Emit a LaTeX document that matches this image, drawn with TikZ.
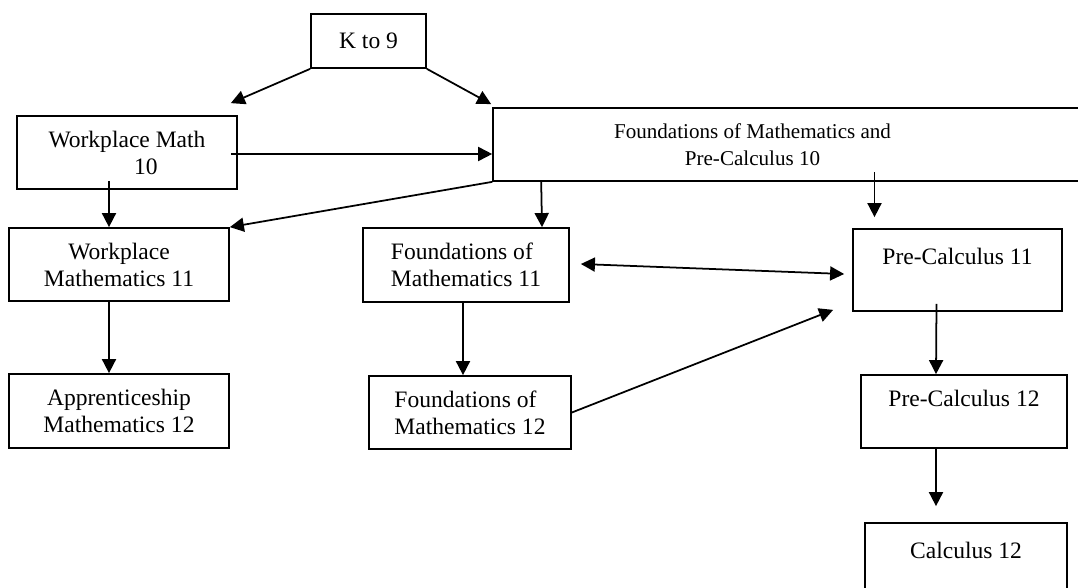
\documentclass[tikz,border=0pt]{standalone}
\usepackage{fontspec}
\setmainfont{Liberation Serif}
\usepackage{tikz}
\usetikzlibrary{arrows.meta, calc}

\begin{document}
\begin{tikzpicture}[
    x=0.02cm, y=-0.02cm,
    line width=1pt,
    >={Triangle[length=8pt, width=8pt]},
    coursenode/.style={rectangle, draw=black, align=center, inner sep=0pt, font=\fontsize{13.4}{15.4}\selectfont},
]
\useasboundingbox (0,0) rectangle (1078,588);
\node[coursenode, minimum width=2.3cm, minimum height=1.08cm](k9) at (368.5,41){K to 9};
\node[coursenode, minimum width=4.4cm, minimum height=1.46cm](wm10) at (127,152.5){Workplace Math\\\hspace*{0.76cm}10};
\node[coursenode, minimum width=12.14cm, minimum height=1.46cm, font=\fontsize{12}{15.4}\selectfont](fmpc10) at (796.5,144.5){\hspace*{-1.76cm}Foundations of Mathematics and\\\hspace*{-1.76cm}Pre-Calculus 10};
\node[coursenode, minimum width=4.4cm, minimum height=1.46cm](wm11) at (119,264.5){Workplace\\Mathematics 11};
\node[coursenode, align=left, minimum width=4.12cm, minimum height=1.48cm](fm11) at (466,265){Foundations of\\Mathematics 11};
\node[coursenode, minimum width=4.18cm, minimum height=1.64cm](pc11) at (957.5,270){Pre-Calculus 11\\~};
\node[coursenode, minimum width=4.4cm, minimum height=1.48cm](app12) at (119,411){Apprenticeship\\Mathematics 12};
\node[coursenode, align=left, minimum width=4.04cm, minimum height=1.46cm](fm12) at (470,412.5){Foundations of\\Mathematics 12};
\node[coursenode, minimum width=4.12cm, minimum height=1.46cm](pc12) at (964,411.5){Pre-Calculus 12\\~};
\node[coursenode, minimum width=4.04cm, minimum height=1.64cm](calc12) at (966,564){Calculus 12\\~};
\draw[->] (k9.south west) -- ($(wm10.north east)+(-7,-12)$);
\draw[->] (k9.south east) -- ($(fmpc10.north west)+(-1,-3)$);
\draw[->] ($(wm10.east)+(-7,1.5)$) -- ($(fmpc10.west)+(0,9.5)$);
\draw[->] ($(wm10.south)+(-18,-9)$) -- ($(wm11.north)+(-10,0)$);
\draw[->] (fmpc10.south west) -- (wm11.north east);
\draw[->] ($(fmpc10.south west)+(49,0)$) -- ($(fm11.north)+(76,0)$);
\draw[->] ($(pc11.north)+(-83,-56)$) -- ($(pc11.north)+(-83,-11)$);
\draw[<->] ($(fm11.east)+(11,-1)$) -- ($(pc11.west)+(-8,4)$);
\draw[->] (fm12.east) -- ($(pc11.south west)+(-19,-2)$);
\draw[->] ($(wm11.south)+(-10,0)$) -- ($(app12.north)+(-10,0)$);
\draw[->] ($(fm11.south)+(-3,0)$) -- ($(fm12.north)+(-7,0)$);
\draw[->] ($(pc11.south)+(-21,-8)$) -- ($(pc12.north)+(-28,0)$);
\draw[->] ($(pc12.south)+(-28,0)$) -- ($(calc12.north)+(-30,-16)$);
\end{tikzpicture}
\end{document}
